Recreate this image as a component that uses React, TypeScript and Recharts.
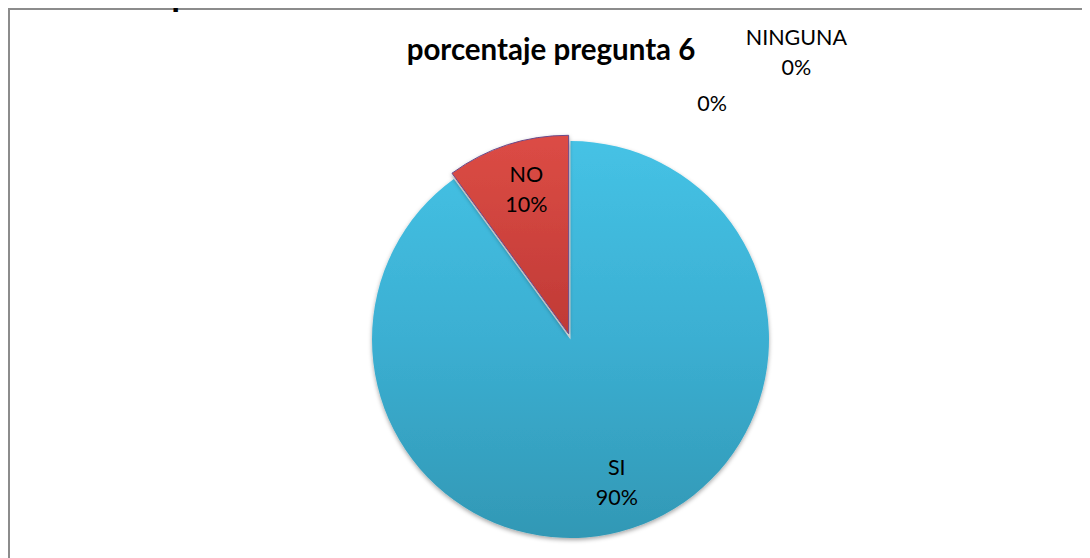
import React from 'react';
import { PieChart, Pie, Cell } from 'recharts';

const CATEGORIES = ['SI', 'NO', '', 'NINGUNA'];
const VALUES = [90, 10, 0, 0];

const data = CATEGORIES.map((name, i) => ({ name, value: VALUES[i] }));

const COLORS = {
  si: 'url(#siGrad)',
  no: 'url(#noGrad)',
};

const RAD = Math.PI / 180;
const CX = 560.5;
const CY = 329.5;
const R = 198.5;
const EXPLODE = 6;

// NO slice is pulled out along its middle angle
const total = VALUES.reduce((a, b) => a + b, 0);
const noStart = (VALUES[0] / total) * 360;
const noMid = noStart + (VALUES[1] / total) * 180; // clockwise from 12 o'clock
const offX = Math.sin(noMid * RAD) * EXPLODE;
const offY = -Math.cos(noMid * RAD) * EXPLODE;

const labelFont = { fontFamily: 'Lato, "Open Sans", sans-serif', fontSize: 21.5, fill: '#000' };

const renderLabel = (props: any) => {
  const { cx, cy, midAngle, outerRadius, index, name, value } = props;
  const pct = `${Math.round((value / total) * 100)}%`;
  let x: number;
  let y: number;
  if (value > 0) {
    const r = outerRadius * 0.755;
    x = cx + r * Math.cos(-midAngle * RAD);
    y = cy + r * Math.sin(-midAngle * RAD);
    if (index === 1) {
      x += offX + 4;
      y += offY - 2;
    }
  } else if (name === '') {
    x = cx + outerRadius * 0.713;
    y = cy - outerRadius * 1.19;
  } else {
    x = cx + outerRadius * 1.138;
    y = cy - outerRadius * 1.45;
  }
  if (!name) {
    return (
      <text key={index} x={x} y={y} textAnchor="middle" dominantBaseline="central" {...labelFont}>
        {pct}
      </text>
    );
  }
  return (
    <text key={index} x={x} textAnchor="middle" {...labelFont}>
      <tspan x={x} y={y - 15} dominantBaseline="central">{name}</tspan>
      <tspan x={x} y={y + 15} dominantBaseline="central">{pct}</tspan>
    </text>
  );
};

export default function App() {
  return (
    <div style={{ position: 'relative', width: 1082, height: 550, borderTop: '2px solid #8c8c8c', borderLeft: '2px solid #8c8c8c', boxSizing: 'border-box' }}>
      <div
        style={{
          position: 'absolute',
          left: -4,
          top: -34,
          lineHeight: '36px',
          fontFamily: 'Arial, "Liberation Sans", sans-serif',
          fontSize: 32,
          whiteSpace: 'nowrap',
          color: '#000',
        }}
      >
        <b>Elaborado por:</b> Laura Daniela Guevara Arroba
      </div>
      <PieChart width={1080} height={548} margin={{ top: 0, right: 0, bottom: 0, left: 0 }} style={{ position: 'absolute', left: 0, top: 0 }}>
        <defs>
          <linearGradient id="siGrad" x1="0" y1="0" x2="0" y2="1">
            <stop offset="0%" stopColor="#45c2e5" />
            <stop offset="50%" stopColor="#3bafd2" />
            <stop offset="100%" stopColor="#3298b5" />
          </linearGradient>
          <linearGradient id="noGrad" x1="0" y1="0" x2="0" y2="1">
            <stop offset="0%" stopColor="#dc4c45" />
            <stop offset="100%" stopColor="#c03a36" />
          </linearGradient>
          <filter id="shadow" x="-10%" y="-10%" width="120%" height="120%">
            <feDropShadow dx="0" dy="2" stdDeviation="2" floodColor="#000" floodOpacity="0.35" />
          </filter>
        </defs>
        <text
          x={541}
          y={50}
          textAnchor="middle"
          fontFamily='Lato, "Open Sans", sans-serif'
          fontWeight="bold"
          fontSize={29.5}
          fill="#000"
        >
          porcentaje pregunta 6
        </text>
        <Pie
          data={data}
          dataKey="value"
          nameKey="name"
          cx={CX}
          cy={CY}
          outerRadius={R}
          startAngle={90}
          endAngle={-270}
          stroke="none"
          labelLine={false}
          label={renderLabel}
          isAnimationActive={false}
          style={{ filter: 'url(#shadow)' }}
        >
          <Cell key="si" fill={COLORS.si} />
          <Cell key="no" fill="none" />
          <Cell key="x" fill="none" />
          <Cell key="ninguna" fill="none" />
        </Pie>
        <Pie
          data={data}
          dataKey="value"
          nameKey="name"
          cx={CX + offX}
          cy={CY + offY}
          outerRadius={R}
          startAngle={90}
          endAngle={-270}
          labelLine={false}
          isAnimationActive={false}
          style={{ filter: 'url(#shadow)' }}
        >
          <Cell key="si2" fill="none" stroke="none" />
          <Cell key="no2" fill={COLORS.no} stroke="#6a4a8a" strokeWidth={1} />
          <Cell key="x2" fill="none" stroke="none" />
          <Cell key="ninguna2" fill="none" stroke="none" />
        </Pie>
      </PieChart>
    </div>
  );
}
